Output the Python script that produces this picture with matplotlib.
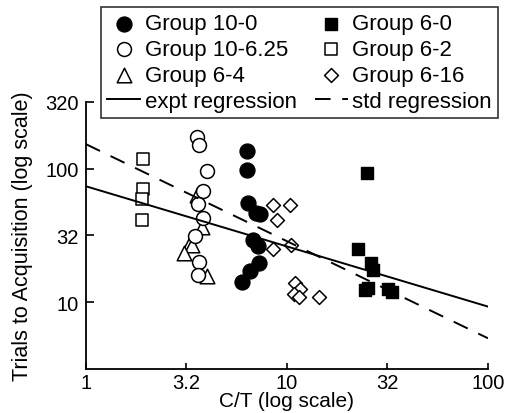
import numpy as np
import matplotlib
matplotlib.use("Agg")
import matplotlib.pyplot as plt

plt.rcParams["font.family"] = ["Liberation Sans", "DejaVu Sans"]

# --- data (C/T ratio, trials to acquisition) ---
g10_0_x = [6.30, 6.30, 6.42, 7.01, 7.34, 6.80, 7.20, 7.28, 6.54, 5.97]
g10_0_y = [135, 97, 55, 46.4, 45.8, 29.4, 26.1, 19.8, 17.1, 14.1]

g10_625_x = [3.56, 3.66, 3.98, 3.83, 3.62, 3.81, 3.49, 3.66, 3.62]
g10_625_y = [171, 149, 96, 68.2, 54.5, 42.7, 31.1, 20.0, 15.9]

g6_4_x = [3.56, 3.77, 3.29, 3.37, 3.07, 3.98]
g6_4_y = [63.4, 36.7, 27.5, 26.6, 23.2, 15.7]

g6_0_x = [25.1, 22.6, 26.3, 26.9, 24.4, 25.3, 31.9, 33.3]
g6_0_y = [91.8, 25.1, 19.8, 17.3, 12.3, 12.8, 12.6, 11.9]

g6_2_x = [1.93, 1.93, 1.90, 1.91]
g6_2_y = [118, 69.8, 58.9, 41.4]

g6_16_x = [8.49, 10.4, 8.95, 8.49, 10.5, 11.0, 11.6, 10.8, 11.5, 14.5]
g6_16_y = [53.5, 53.5, 41.4, 24.8, 27.0, 13.9, 12.6, 11.5, 10.9, 11.0]

# regression lines: y = a * x^b
expt_a, expt_b = 73.6, -0.45
std_a, std_b = 152, -0.726

x_ticks = [1, 10**0.5, 10, 10**1.5, 100]
x_tick_labels = ["1", "3.2", "10", "32", "100"]
y_ticks = [10, 10**1.5, 100, 10**2.5]
y_tick_labels = ["10", "32", "100", "320"]

fig = plt.figure(figsize=(5.07, 4.14), dpi=100)
ax = fig.add_axes([0.1696, 0.1063, 0.7929, 0.6457])

ax.scatter(g6_4_x, g6_4_y, marker="^", s=110, facecolor="white", edgecolor="black", linewidth=1.1, zorder=2, label="Group 6-4")
ax.scatter(g10_625_x, g10_625_y, marker="o", s=100, facecolor="white", edgecolor="black", linewidth=1.1, zorder=2, label="Group 10-6.25")
ax.scatter(g6_2_x, g6_2_y, marker="s", s=64, facecolor="white", edgecolor="black", linewidth=1.1, zorder=2, label="Group 6-2")
ax.scatter(g6_16_x, g6_16_y, marker="D", s=50, facecolor="white", edgecolor="black", linewidth=1.1, zorder=2, label="Group 6-16")
ax.scatter(g10_0_x, g10_0_y, marker="o", s=115, facecolor="black", edgecolor="black", zorder=2, label="Group 10-0")
ax.scatter(g6_0_x, g6_0_y, marker="s", s=72, facecolor="black", edgecolor="black", zorder=2, label="Group 6-0")

xx = np.array([1.0, 100.0])
ax.plot(xx, expt_a * xx**expt_b, color="black", lw=1.4, zorder=3, label="expt regression")
ax.plot(xx, std_a * xx**std_b, color="black", lw=1.4, dashes=(8, 6), zorder=3, label="std regression")

ax.set_xscale("log")
ax.set_yscale("log")
ax.set_xlim(1, 100)
ax.set_ylim(10**0.5, 10**2.5)
ax.set_xticks(x_ticks)
ax.set_xticklabels(x_tick_labels)
ax.set_yticks(y_ticks)
ax.set_yticklabels(y_tick_labels)
ax.minorticks_off()
ax.tick_params(axis="x", direction="in", length=4, width=1.2, labelsize=14.5, pad=3)
ax.tick_params(axis="y", direction="in", length=6, width=1.2, labelsize=14.5, pad=5)
for side in ["top", "right"]:
    ax.spines[side].set_visible(False)
for side in ["left", "bottom"]:
    ax.spines[side].set_linewidth(1.3)

ax.set_xlabel("C/T (log scale)", fontsize=15, labelpad=-1)
ax.set_ylabel("Trials to Acquisition (log scale)", fontsize=15.5, labelpad=9)

h, l = ax.get_legend_handles_labels()
order = ["Group 10-0", "Group 10-6.25", "Group 6-4", "expt regression",
         "Group 6-0", "Group 6-2", "Group 6-16", "std regression"]
hs = [h[l.index(name)] for name in order]
leg = fig.legend(hs, order, ncol=2, loc="center", bbox_to_anchor=(0.5907, 0.846),
                 fontsize=16, frameon=True, fancybox=False, edgecolor="black",
                 handlelength=1.5, handletextpad=0.2, columnspacing=0.8,
                 labelspacing=0.22, borderpad=0.28, borderaxespad=0)
leg.get_frame().set_linewidth(1.2)

fig.savefig("out.png", dpi=100)
